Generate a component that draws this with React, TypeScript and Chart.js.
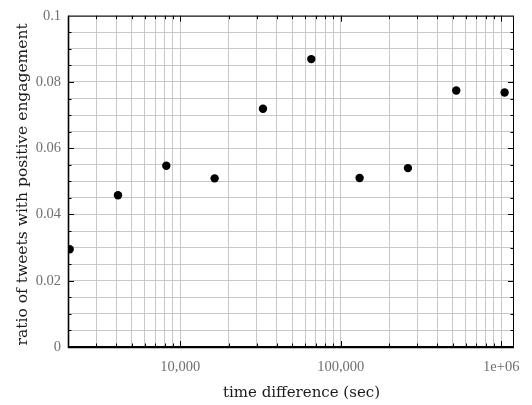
import React, { useEffect, useRef } from "react";
import { Chart, registerables } from "chart.js";

Chart.register(...registerables);

// ---- data ----
const timeDiff = [2048, 4096, 8192, 16384, 32768, 65536, 131072, 262144, 524288, 1048576];
const ratio = [0.0295, 0.0458, 0.0547, 0.0509, 0.0719, 0.0869, 0.051, 0.054, 0.0774, 0.0768];

const xMin = 2000;
const xMax = 1200000;
const xLabelValues = [10000, 100000, 1000000];
const xLabelTexts = ["10,000", "100,000", "1e+06"];
const xDecades = [1000, 10000, 100000, 1000000];
const xMantissas = [1, 2, 3, 4, 5, 6, 7, 8, 9];

const yMin = 0;
const yMax = 0.1;
const yStep = 0.005;
const yLabelValues = [0, 0.02, 0.04, 0.06, 0.08, 0.1];
const yLabelTexts = ["0", "0.02", "0.04", "0.06", "0.08", "0.1"];

const xTitle = "time difference (sec)";
const yTitle = "ratio of tweets with positive engagement";

const TICK_FONT = "'Liberation Serif', serif";
const TITLE_FONT = "'DejaVu Serif', serif";

function isMajorX(v: number) {
  return xLabelValues.some((m) => Math.abs(v - m) / m < 1e-6);
}
function isMajorY(v: number) {
  return yLabelValues.some((m) => Math.abs(v - m) < 1e-9);
}

const frameAndTicks = {
  id: "frameAndTicks",
  afterDraw(chart: any) {
    const { ctx, chartArea } = chart;
    const { left, right, top, bottom } = chartArea;
    const xs = chart.scales.x;
    const ys = chart.scales.y;
    ctx.save();
    ctx.strokeStyle = "#000";
    ctx.lineWidth = 1;
    ctx.beginPath();
    xs.ticks.forEach((t: any) => {
      const px = Math.round(xs.getPixelForValue(t.value)) + 0.5;
      if (px < left + 1 || px > right - 1) return;
      const len = isMajorX(t.value) ? 6 : 3.5;
      ctx.moveTo(px, bottom);
      ctx.lineTo(px, bottom - len);
      ctx.moveTo(px, top);
      ctx.lineTo(px, top + len);
    });
    ys.ticks.forEach((t: any) => {
      const py = Math.round(ys.getPixelForValue(t.value)) + 0.5;
      if (py < top + 1 || py > bottom - 1) return;
      const len = isMajorY(t.value) ? 6 : 3.5;
      ctx.moveTo(left, py);
      ctx.lineTo(left + len, py);
      ctx.moveTo(right, py);
      ctx.lineTo(right - len, py);
    });
    ctx.stroke();
    // frame
    ctx.lineWidth = 1;
    ctx.strokeRect(left + 0.5, top + 0.5, right - left - 1, bottom - top - 1);
    ctx.lineWidth = 1.6;
    ctx.beginPath();
    ctx.moveTo(left + 0.5, top);
    ctx.lineTo(left + 0.5, bottom + 0.5);
    ctx.lineTo(right, bottom + 0.5);
    ctx.stroke();

    // axis titles
    ctx.fillStyle = "#1a1a1a";
    ctx.textBaseline = "alphabetic";
    ctx.textAlign = "center";
    ctx.font = `15px ${TITLE_FONT}`;
    ctx.fillText(xTitle, (left + right) / 2 + 10.5, 397);
    ctx.save();
    ctx.translate(27, (top + bottom) / 2 + 3);
    ctx.rotate(-Math.PI / 2);
    ctx.font = `15.5px ${TITLE_FONT}`;
    ctx.fillText(yTitle, 0, 0);
    ctx.restore();
    ctx.restore();
  },
};

export default function App() {
  const canvasRef = useRef<HTMLCanvasElement | null>(null);

  useEffect(() => {
    if (!canvasRef.current) return;
    const points = timeDiff.map((x, i) => ({ x, y: ratio[i] }));
    const xGrid: number[] = [];
    xDecades.forEach((d) => xMantissas.forEach((m) => {
      const v = m * d;
      if (v >= xMin && v <= xMax) xGrid.push(v);
    }));

    const chart = new Chart(canvasRef.current, {
      type: "scatter",
      data: {
        datasets: [
          {
            data: points,
            backgroundColor: "#000",
            borderColor: "#000",
            borderWidth: 0,
            pointRadius: 4.2,
            pointHoverRadius: 4.2,
            clip: 0,
          },
        ],
      },
      options: {
        responsive: false,
        animation: false,
        events: [],
        layout: { padding: { left: 0, top: 12, right: 18, bottom: 0 } },
        plugins: {
          legend: { display: false },
          tooltip: { enabled: false },
        },
        scales: {
          x: {
            type: "logarithmic",
            min: xMin,
            max: xMax,
            afterBuildTicks: (scale: any) => {
              scale.ticks = xGrid.map((v) => ({ value: v }));
            },
            afterFit: (scale: any) => {
              scale.height = 58;
            },
            grid: { color: "#c8c8c8", lineWidth: 1, drawTicks: false },
            border: { display: false },
            ticks: {
              autoSkip: false,
              maxRotation: 0,
              padding: 11,
              color: "#6f6f6f",
              font: { family: TICK_FONT, size: 14.5 },
              callback: (value: any) => {
                const i = xLabelValues.findIndex((m) => Math.abs(Number(value) - m) / m < 1e-6);
                return i >= 0 ? xLabelTexts[i] : "";
              },
            },
            title: { display: false },
          },
          y: {
            min: yMin,
            max: yMax,
            afterBuildTicks: (scale: any) => {
              const t: any[] = [];
              const n = Math.round((yMax - yMin) / yStep);
              for (let i = 0; i <= n; i++) t.push({ value: +(yMin + i * yStep).toFixed(4) });
              scale.ticks = t;
            },
            afterFit: (scale: any) => {
              scale.width = 68;
            },
            grid: { color: "#c8c8c8", lineWidth: 1, drawTicks: false },
            border: { display: false },
            ticks: {
              autoSkip: false,
              padding: 7,
              color: "#6f6f6f",
              font: { family: TICK_FONT, size: 14.5 },
              callback: (value: any) => {
                const i = yLabelValues.findIndex((m) => Math.abs(Number(value) - m) < 1e-9);
                return i >= 0 ? yLabelTexts[i] : "";
              },
            },
            title: { display: false },
          },
        },
      },
      plugins: [frameAndTicks],
    });
    return () => chart.destroy();
  }, []);

  return (
    <div style={{ position: "fixed", left: 0, top: 0, width: 532, height: 405, background: "#fff" }}>
      <canvas ref={canvasRef} width={532} height={405} style={{ display: "block" }} />
    </div>
  );
}
